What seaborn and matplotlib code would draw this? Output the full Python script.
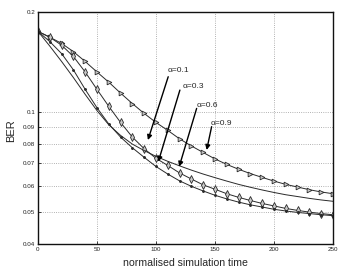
import numpy as np
import pandas as pd
import matplotlib
matplotlib.use("Agg")
import matplotlib.pyplot as plt
import seaborn as sns

sns.set_style("ticks")
plt.rcParams['font.family'] = ['Liberation Sans', 'DejaVu Sans']

time = [0, 10, 20, 30, 40, 50, 60, 70, 80, 90, 100, 110, 120, 130, 140, 150,
        160, 170, 180, 190, 200, 210, 220, 230, 240, 250]
ber_a09 = [0.175, 0.168, 0.161, 0.152, 0.142, 0.132, 0.123, 0.114, 0.106, 0.099,
           0.093, 0.088, 0.083, 0.079, 0.0755, 0.0722, 0.0695, 0.0672, 0.0652,
           0.0635, 0.0619, 0.0605, 0.0594, 0.0583, 0.0574, 0.0567]
ber_a06 = [0.175, 0.168, 0.159, 0.147, 0.132, 0.117, 0.104, 0.093, 0.084, 0.0775,
           0.0725, 0.069, 0.0655, 0.0628, 0.0603, 0.0585, 0.0567, 0.0553, 0.0541,
           0.053, 0.0521, 0.0512, 0.0505, 0.0499, 0.0494, 0.049]
ber_a03 = [0.175, 0.163, 0.150, 0.134, 0.117, 0.103, 0.092, 0.084, 0.078, 0.073,
           0.0685, 0.065, 0.062, 0.0597, 0.0578, 0.0561, 0.0547, 0.0535, 0.0525,
           0.0517, 0.0509, 0.0503, 0.0498, 0.0494, 0.049, 0.0487]
ber_a01 = [0.175, 0.158, 0.142, 0.127, 0.113, 0.101, 0.0915, 0.085, 0.080, 0.0765,
           0.0735, 0.071, 0.0688, 0.0668, 0.065, 0.0634, 0.0619, 0.0605, 0.0593,
           0.0582, 0.0572, 0.0563, 0.0556, 0.0549, 0.0543, 0.0538]

labels = ["α=0.1", "α=0.3", "α=0.6", "α=0.9"]
label_xy = [(110, 0.1337), (122.9, 0.119), (134.5, 0.1047), (146.4, 0.0924)]
arrow_start = [(110.4, 0.1277), (120.3, 0.1164), (134.5, 0.1025), (147.2, 0.0903)]
arrow_tip = [(93.2, 0.0823), (102, 0.0708), (119.7, 0.0684), (143, 0.0768)]

yticks = [0.04, 0.05, 0.06, 0.07, 0.08, 0.09, 0.1, 0.2]
ytick_labels = ["0.04", "0.05", "0.06", "0.07", "0.08", "0.09", "0.1", "0.2"]
xticks = [0, 50, 100, 150, 200, 250]

fig = plt.figure(figsize=(3.39, 2.69), dpi=100)
ax = fig.add_axes([0.112, 0.093, 0.870, 0.862])

lw = 0.7
lc = '#2a2a2a'
sns.lineplot(x=time, y=ber_a09, ax=ax, color=lc, lw=lw, marker='>',
             markersize=3.4, markerfacecolor='#c8c8c8', markeredgecolor=lc,
             markeredgewidth=0.6)
sns.lineplot(x=time, y=ber_a06, ax=ax, color=lc, lw=lw, marker='d',
             markersize=3.6, markerfacecolor='#c8c8c8', markeredgecolor=lc,
             markeredgewidth=0.6)
sns.lineplot(x=time, y=ber_a03, ax=ax, color=lc, lw=lw, marker='.',
             markersize=2.6, markerfacecolor=lc, markeredgecolor=lc)
sns.lineplot(x=time, y=ber_a01, ax=ax, color=lc, lw=lw)

ax.set_yscale('log')
ax.set_xlim(0, 250)
ax.set_ylim(0.04, 0.2)
ax.yaxis.set_major_locator(matplotlib.ticker.FixedLocator(yticks))
ax.yaxis.set_major_formatter(matplotlib.ticker.FixedFormatter(ytick_labels))
ax.yaxis.set_minor_locator(matplotlib.ticker.NullLocator())
ax.set_xticks(xticks)
ax.set_xticklabels([str(v) for v in xticks])
ax.tick_params(axis='both', which='major', labelsize=4.5, direction='in',
               length=2, width=0.6, pad=2, colors='#222222')
ax.grid(True, which='major', linestyle=':', color='#999999', lw=0.6)
for s in ax.spines.values():
    s.set_visible(True)
    s.set_linewidth(1.0)
    s.set_color('#111111')

ax.set_xlabel("normalised simulation time", fontsize=7.6, va='center')
ax.xaxis.set_label_coords(0.5, -0.084)
ax.set_ylabel("BER", fontsize=8, va='center')
ax.yaxis.set_label_coords(-0.09, 0.49)

for lab, lxy, st, tp in zip(labels, label_xy, arrow_start, arrow_tip):
    ax.text(lxy[0], lxy[1], lab, fontsize=6, ha='left', va='center')
    ax.annotate("", xy=tp, xytext=st,
                arrowprops=dict(arrowstyle='-|>', color='k', lw=1.0,
                                mutation_scale=7, shrinkA=0, shrinkB=0))

fig.savefig("out.png", dpi=100)
